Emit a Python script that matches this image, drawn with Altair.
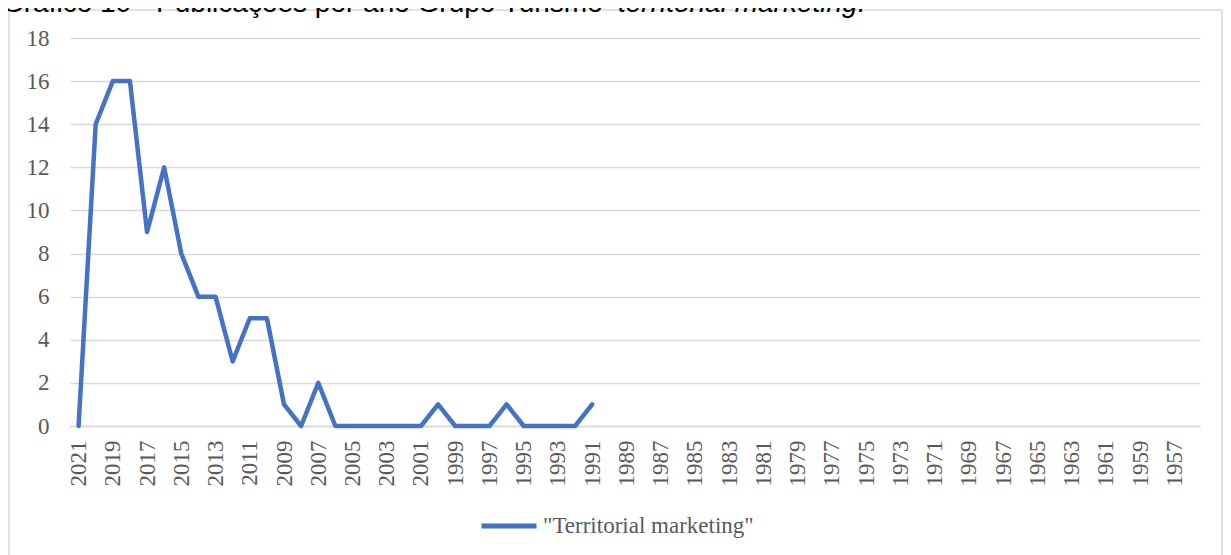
import altair as alt
import pandas as pd

# ---- data ----
years = [str(y) for y in range(2021, 1955, -1)]          # 2021 ... 1956 (category axis)
counts = [0, 14, 16, 16, 9, 12, 8, 6, 6, 3, 5, 5, 1, 0, 2, 0, 0, 0, 0, 0, 0,
          1, 0, 0, 0, 1, 0, 0, 0, 0, 1]                   # 2021 ... 1991
series_name = '"Territorial marketing"'
tick_years = years[::2]                                   # 2021, 2019, ..., 1957
y_ticks = list(range(0, 19, 2))
title_plain = "Gráfico 10 - Publicações por ano Grupo Turismo "
title_italic = "territorial marketing."

values = counts + [None] * (len(years) - len(counts))
df = pd.DataFrame({"year": years, "count": values, "series": series_name})

GREY = "#595959"
GRID = "#d9d9d9"
SERIF = "Times New Roman, Liberation Serif, serif"
FS = 23

W, H = 1130, 388
PAD = {"left": 62, "top": 30, "right": 23, "bottom": 129}

line = alt.Chart(df).mark_line(
    strokeWidth=4.5, strokeJoin="round", strokeCap="round"
).encode(
    x=alt.X(
        "year:N",
        sort=years,
        scale=alt.Scale(type="point", domain=years, padding=0.5),
        axis=alt.Axis(
            title=None, values=tick_years, labelAngle=270, labelPadding=14,
            labelFont=SERIF, labelFontSize=FS, labelColor=GREY,
            ticks=False, domain=True, domainColor=GRID, domainWidth=1.5,
            grid=False, labelOverlap=False,
        ),
    ),
    y=alt.Y(
        "count:Q",
        scale=alt.Scale(domain=[0, 18], nice=False, zero=True),
        axis=alt.Axis(
            title=None, values=y_ticks, labelPadding=21,
            labelFont=SERIF, labelFontSize=FS, labelColor=GREY,
            ticks=False, domain=False, grid=True, gridColor=GRID, gridWidth=1.5,
        ),
    ),
    color=alt.Color(
        "series:N",
        scale=alt.Scale(range=["#4472C4"]),
        legend=alt.Legend(
            title=None, orient="none", legendX=409, legendY=458,
            symbolType="stroke", symbolSize=3025, symbolStrokeWidth=5,
            labelFont=SERIF, labelFontSize=FS, labelColor=GREY,
            labelOffset=4, labelLimit=0, padding=0,
        ),
    ),
)

one = alt.Data(values=[{}])

frame = alt.Chart(one).mark_rect(
    filled=False, stroke=GRID, strokeWidth=1.5
).encode(
    x=alt.value(-PAD["left"] + 1), x2=alt.value(W + PAD["right"] - 1),
    y=alt.value(-28), y2=alt.value(H + PAD["bottom"] + 20),
)

title1 = alt.Chart(one).mark_text(
    align="left", baseline="alphabetic", font="Liberation Sans",
    fontSize=28, color="black"
).encode(x=alt.value(-68), y=alt.value(-26), text=alt.value(title_plain))

title2 = alt.Chart(one).mark_text(
    align="left", baseline="alphabetic", font="Liberation Sans",
    fontSize=28, fontStyle="italic", color="black"
).encode(x=alt.value(548), y=alt.value(-26), text=alt.value(title_italic))

chart = alt.layer(frame, line, title1, title2).properties(
    width=W, height=H,
    autosize=alt.AutoSizeParams(type="none"),
    padding=PAD,
    background="white",
).configure_view(stroke=None)

chart.save("out.html", embed_options={"renderer": "svg", "actions": False})
